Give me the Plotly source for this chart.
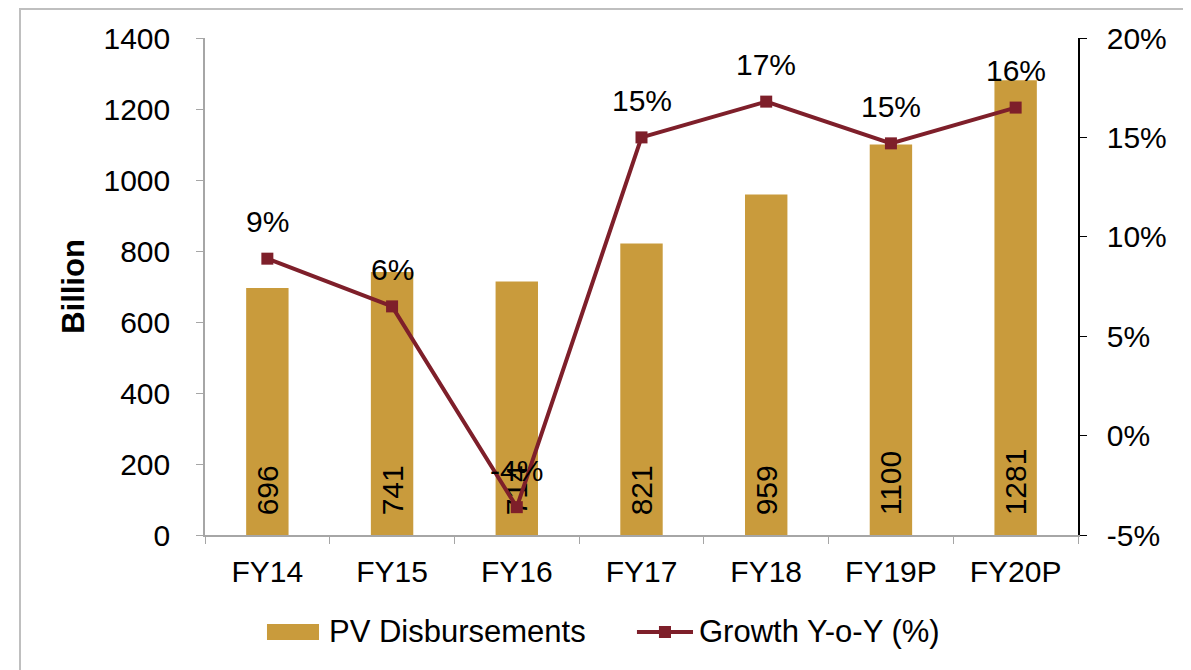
import plotly.graph_objects as go

categories = ["FY14", "FY15", "FY16", "FY17", "FY18", "FY19P", "FY20P"]
disbursements = [696, 741, 714, 821, 959, 1100, 1281]
growth = [8.9, 6.5, -3.6, 15.0, 16.8, 14.7, 16.5]
growth_labels = ["9%", "6%", "-4%", "15%", "17%", "15%", "16%"]
series_names = ["PV Disbursements", "Growth Y-o-Y (%)"]
right_tick_vals = [-5, 0, 5, 10, 15, 20]
right_tick_text = ["-5%", "0%", "5%", "10%", "15%", "20%"]

FONT = "Liberation Sans, Arial, sans-serif"
BAR_COLOR = "#C99B3C"
LINE_COLOR = "#7E1F2A"
FS = 30

fig = go.Figure()
fig.add_trace(go.Bar(
    x=categories, y=disbursements, name=series_names[0],
    marker=dict(color=BAR_COLOR, line=dict(width=0)),
    text=["\u00a0\u00a0" + str(v) for v in disbursements], textposition="inside",
    insidetextanchor="start", textangle=-90,
    textfont=dict(size=FS, color="black", family=FONT),
    cliponaxis=False, showlegend=False,
))
fig.add_trace(go.Scatter(
    x=categories, y=growth, name=series_names[1], yaxis="y2",
    mode="lines+markers",
    line=dict(color=LINE_COLOR, width=4),
    marker=dict(symbol="square", size=12, color=LINE_COLOR),
    cliponaxis=False, showlegend=False,
))

annotations = []
for c, g, lab in zip(categories, growth, growth_labels):
    annotations.append(dict(x=c, y=g, xref="x", yref="y2", text=lab,
                            showarrow=False, yshift=37,
                            font=dict(size=FS, color="black", family=FONT)))

# custom legend (wide swatches like the original)
leg_y = -0.1932
annotations.append(dict(x=0.1397, y=leg_y, xref="paper", yref="paper",
                        text=series_names[0], showarrow=False, xanchor="left",
                        yanchor="middle", font=dict(size=31, family=FONT)))
annotations.append(dict(x=0.5636, y=leg_y, xref="paper", yref="paper",
                        text=series_names[1], showarrow=False, xanchor="left",
                        yanchor="middle", font=dict(size=31, family=FONT)))

shapes = [
    dict(type="rect", xref="paper", yref="paper", x0=-0.2119, x1=1.1249,
         y0=-0.4, y1=1.0583, line=dict(color="#BFBFBF", width=2),
         fillcolor="rgba(0,0,0,0)", layer="below"),
    dict(type="rect", xref="paper", yref="paper", x0=0.0710, x1=0.1306,
         y0=-0.2113, y1=-0.1791, fillcolor=BAR_COLOR, line=dict(width=0)),
    dict(type="line", xref="paper", yref="paper", x0=0.4948, x1=0.5590,
         y0=-0.1952, y1=-0.1952, line=dict(color=LINE_COLOR, width=4)),
    dict(type="rect", xref="paper", yref="paper", x0=0.5200, x1=0.5338,
         y0=-0.2073, y1=-0.1831, fillcolor=LINE_COLOR, line=dict(width=0)),
]

fig.update_layout(
    width=1191, height=670,
    margin=dict(l=197, r=121, t=30, b=143, autoexpand=False),
    paper_bgcolor="white", plot_bgcolor="white",
    font=dict(family=FONT, size=FS, color="black"),
    bargap=0.66,
    showlegend=False,
    xaxis=dict(showline=True, linecolor="#A6A6A6", linewidth=1.5,
               ticks="outside", tickson="boundaries", ticklen=7, tickcolor="#A6A6A6",
               tickfont=dict(size=FS), showgrid=False, ticklabelstandoff=9),
    yaxis=dict(range=[0, 1400], dtick=200, showline=True, linecolor="#A6A6A6",
               linewidth=1.5, ticks="outside", ticklen=7, tickcolor="#A6A6A6",
               showgrid=False, zeroline=False, tickfont=dict(size=FS),
               ticklabelstandoff=20,
               title=dict(text="<b>Billion</b>", font=dict(size=31), standoff=10)),
    yaxis2=dict(range=[-5, 20], tickvals=right_tick_vals, ticktext=right_tick_text,
                overlaying="y", side="right",
                showline=True, linecolor="black", linewidth=1.5,
                ticks="outside", ticklen=7, tickcolor="black",
                showgrid=False, zeroline=False,
                tickfont=dict(size=FS), ticklabelstandoff=14),
    annotations=annotations,
    shapes=shapes,
)

fig.write_html("out.html")
